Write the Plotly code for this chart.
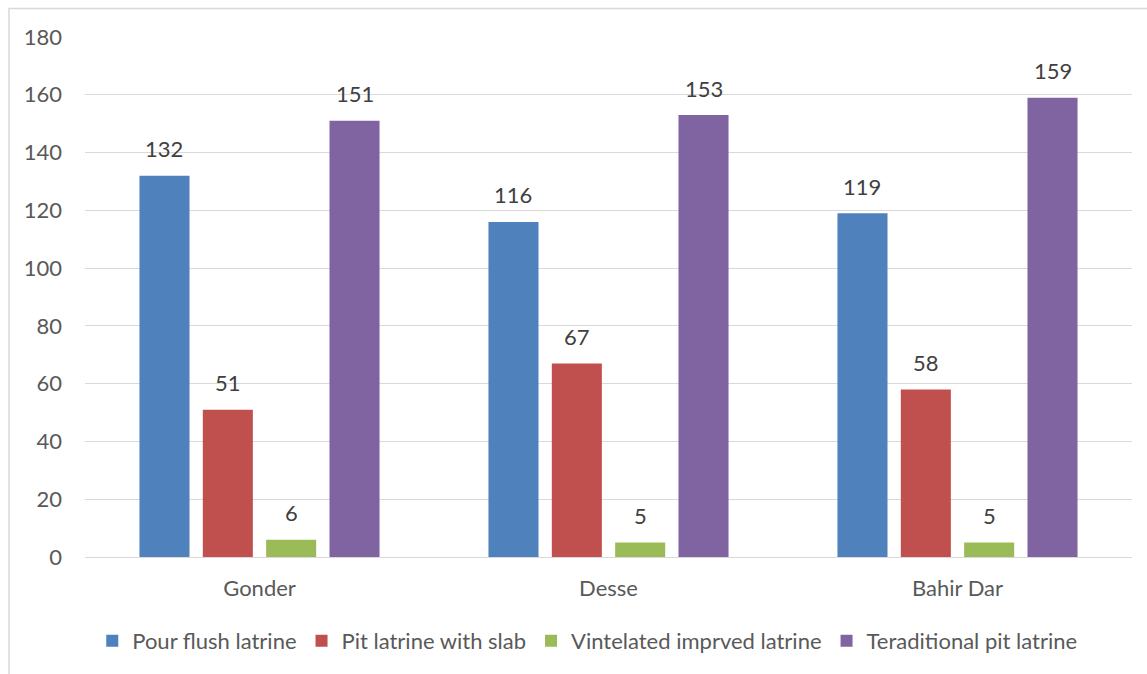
import plotly.graph_objects as go

categories = ["Gonder", "Desse", "Bahir Dar"]
series_names = ["Pour flush latrine", "Pit latrine with slab",
                "Vintelated imprved latrine", "Teraditional pit latrine"]
pour_flush = [132, 116, 119]
pit_slab = [51, 67, 58]
vip = [6, 5, 5]
traditional = [151, 153, 159]
y_ticks = [0, 20, 40, 60, 80, 100, 120, 140, 160, 180]

series_values = [pour_flush, pit_slab, vip, traditional]
colors = ["#4F81BD", "#C0504D", "#9BBB59", "#8064A2"]

FONT = "Lato"
FS = 22
W, H = 1147, 674
ML, MR, MT, MB = 85, 15, 37, 117
BARGAP = 0.274
n = len(series_names)

fig = go.Figure()
for name, vals, col in zip(series_names, series_values, colors):
    fig.add_trace(go.Bar(
        x=categories, y=vals, name=name,
        marker=dict(color=col, line=dict(width=0)),
        hoverinfo="skip",
    ))

# data labels
slot = (1 - BARGAP) / n
annotations = []
for i, vals in enumerate(series_values):
    off = (i - (n - 1) / 2) * slot
    for j, v in enumerate(vals):
        annotations.append(dict(
            x=j + off, y=v, xref="x", yref="y", text=str(v),
            showarrow=False, yanchor="middle", yshift=27,
            font=dict(family=FONT, size=FS, color="#404040"),
        ))

# outer chart border (left and top visible)
pw = W - ML - MR
ph = H - MT - MB
shapes = [dict(
    type="rect", xref="paper", yref="paper",
    x0=(9 - ML) / pw, x1=(W + 5 - ML) / pw,
    y0=-(H + 5 - MT - ph) / ph, y1=1 + (MT - 8.5) / ph,
    line=dict(color="#D9D9D9", width=1.5), fillcolor="rgba(0,0,0,0)", layer="below",
)]

fig.update_layout(
    width=W, height=H,
    margin=dict(l=ML, r=MR, t=MT, b=MB),
    paper_bgcolor="white", plot_bgcolor="white",
    barmode="group", bargap=BARGAP, bargroupgap=0.21,
    font=dict(family=FONT, size=FS, color="#595959"),
    xaxis=dict(
        showgrid=False, showline=True, linecolor="#D9D9D9", linewidth=1,
        ticks="", tickfont=dict(family=FONT, size=FS, color="#595959"),
        ticklabelstandoff=12,
    ),
    yaxis=dict(
        range=[0, 180], tickvals=y_ticks, showgrid=True, gridcolor="#D9D9D9",
        gridwidth=1, zeroline=False, showline=False, ticks="",
        tickfont=dict(family=FONT, size=FS, color="#595959"),
        ticklabelstandoff=22,
    ),
    legend=dict(
        orientation="h", xref="container", yref="container",
        x=0.512, xanchor="center", y=1 - 641 / H, yanchor="middle",
        font=dict(family=FONT, size=FS, color="#595959"),
        itemwidth=30, traceorder="normal",
    ),
    annotations=annotations,
    shapes=shapes,
)

fig.write_html("out.html")
